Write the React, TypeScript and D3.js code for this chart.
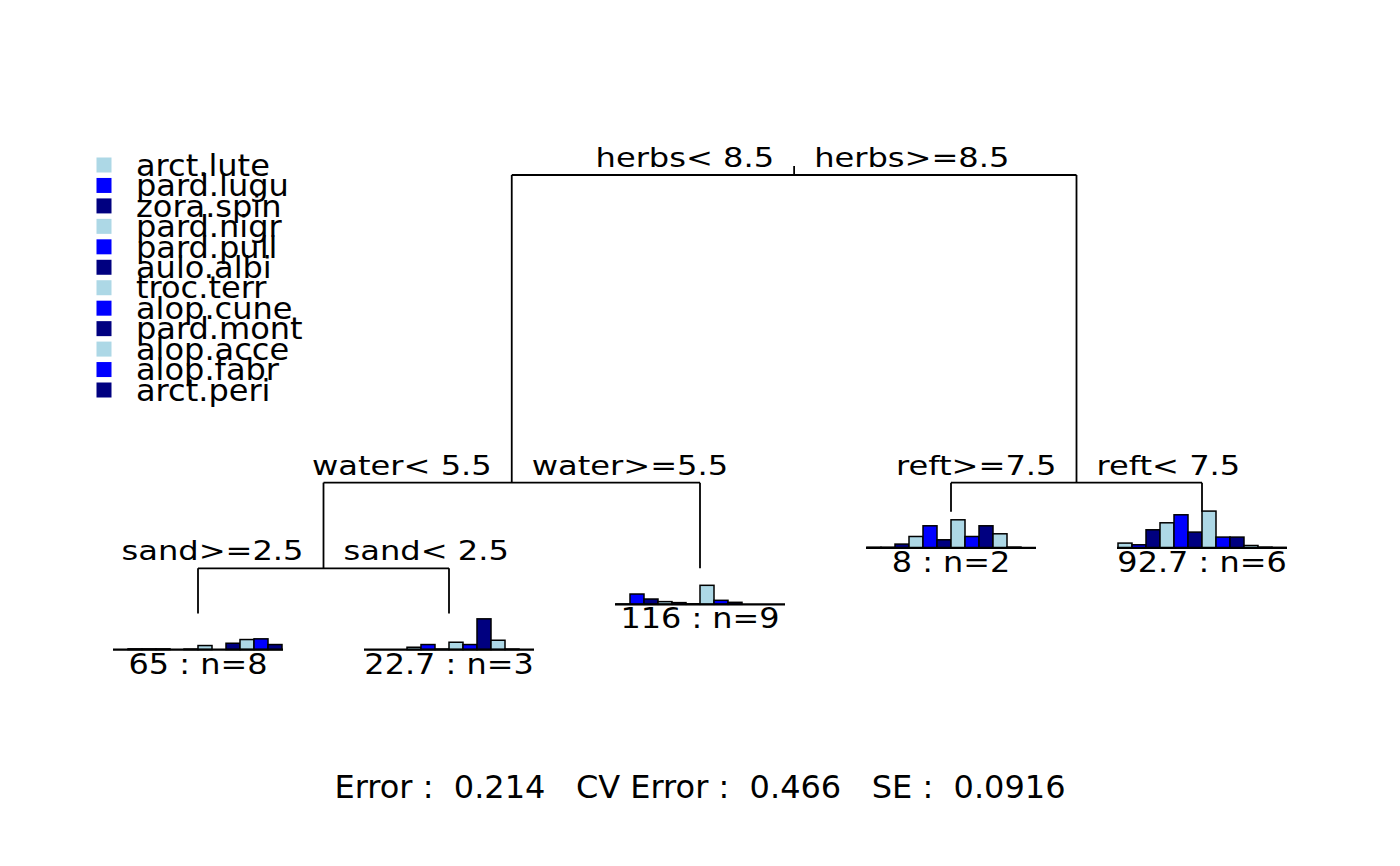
import React from "react";
import * as d3 from "d3";

const species = [
  "arct.lute", "pard.lugu", "zora.spin", "pard.nigr", "pard.pull", "aulo.albi",
  "troc.terr", "alop.cune", "pard.mont", "alop.acce", "alop.fabr", "arct.peri",
];
const palette = ["#ADD8E6", "#0000FF", "#000080"];

// internal splits: rpart node id, left label, right label, relative improvement
const splitIds = [1, 2, 3, 4];
const splitLeft = ["herbs< 8.5", "water< 5.5", "reft>=7.5", "sand>=2.5"];
const splitRight = ["herbs>=8.5", "water>=5.5", "reft< 7.5", "sand< 2.5"];
const splitImprove = [0.517, 0.144, 0.049, 0.076];

// leaves: rpart node id, fitted value label, n, species bars
const leafIds = [8, 9, 5, 6, 7];
const leafValue = ["65", "22.7", "116", "8", "92.7"];
const leafN = [8, 3, 9, 2, 6];
const leafBars = [
  [0, 0.7, 0.7, 0.7, 0, 0.5, 4, 0, 6.3, 10, 10.7, 5],
  [0, 0, 0, 2.3, 5, 0.5, 7.3, 5, 30.7, 9.3, 0.5, 0],
  [0.3, 10.3, 5.3, 2.7, 1.7, 0.5, 19, 4, 2, 0, 0, 0],
  [0.5, 0.5, 3.7, 11.3, 22, 8, 28, 11.3, 22, 14, 0.7, 0],
  [4.7, 3, 18, 25, 33, 15.7, 36.7, 10.7, 10.7, 2.3, 0.7, 0.3],
];

const errorText = "Error :  0.214   CV Error :  0.466   SE :  0.0916";

const FONT = "DejaVu Sans";

type N = { id: number; x: number; y: number; leaf: boolean; k: number };

export default function App() {
  const W = 1400, H = 866;
  const xLeaf = d3.scaleLinear().domain([0, leafIds.length - 1]).range([198, 1202]);
  const yDev = d3.scaleLinear().domain([0, 0.786]).range([175, 642.7]);

  // build layout
  const nodes = new Map<number, N>();
  const order: number[] = [];
  const isSplit = (id: number) => splitIds.includes(id);
  const walk = (id: number) => {
    if (isSplit(id)) { walk(id * 2); walk(id * 2 + 1); } else order.push(id);
  };
  walk(1);
  const place = (id: number, cum: number): number => {
    if (isSplit(id)) {
      const k = splitIds.indexOf(id);
      const c = cum + splitImprove[k];
      const xl = place(id * 2, c);
      const xr = place(id * 2 + 1, c);
      const x = (xl + xr) / 2;
      nodes.set(id, { id, x, y: yDev(cum), leaf: false, k });
      return x;
    }
    const k = leafIds.indexOf(id);
    const x = xLeaf(order.indexOf(id));
    nodes.set(id, { id, x, y: yDev(cum), leaf: true, k });
    return x;
  };
  place(1, 0);

  const barW = 14;
  const barSpan = barW * species.length;
  const hScale = d3.scaleLinear().domain([0, 40]).range([0, 40]);
  const barGap = 36;

  const lines: JSX.Element[] = [];
  const labels: JSX.Element[] = [];
  const bars: JSX.Element[] = [];
  const root = nodes.get(1)!;
  lines.push(<line key="roottick" x1={root.x} x2={root.x} y1={root.y - 9} y2={root.y} />);
  nodes.forEach((n) => {
    if (!n.leaf) {
      const l = nodes.get(n.id * 2)!;
      const r = nodes.get(n.id * 2 + 1)!;
      lines.push(<line key={"h" + n.id} x1={l.x} x2={r.x} y1={n.y} y2={n.y} />);
      lines.push(<line key={"vl" + n.id} x1={l.x} x2={l.x} y1={n.y} y2={l.y} />);
      lines.push(<line key={"vr" + n.id} x1={r.x} x2={r.x} y1={n.y} y2={r.y} />);
      const by = n.y - 8;
      labels.push(
        <text key={"ll" + n.id} textAnchor="end" fontSize={27}
          transform={`translate(${n.x - 20},${by}) scale(1.19,1)`}>{splitLeft[n.k]}</text>
      );
      labels.push(
        <text key={"lr" + n.id} textAnchor="start" fontSize={27}
          transform={`translate(${n.x + 20},${by}) scale(1.19,1)`}>{splitRight[n.k]}</text>
      );
    } else {
      const base = n.y + barGap;
      const x0 = n.x - barSpan / 2;
      leafBars[n.k].forEach((v, i) => {
        const h = hScale(v);
        bars.push(
          <rect key={`b${n.id}-${i}`} x={x0 + i * barW} y={base - h} width={barW} height={h}
            fill={palette[i % 3]} stroke="#000" strokeWidth={1.5} />
        );
      });
      bars.push(<line key={"base" + n.id} x1={x0 - 1} x2={x0 + barSpan + 1} y1={base} y2={base}
        stroke="#000" strokeWidth={2.2} />);
      labels.push(
        <text key={"lv" + n.id} textAnchor="middle" fontSize={28.5}
          transform={`translate(${n.x},${base + 24}) scale(1.12,1)`}>
          {`${leafValue[n.k]} : n=${leafN[n.k]}`}
        </text>
      );
    }
  });

  const legendY = d3.scaleLinear().domain([0, species.length - 1]).range([165, 390]);

  return (
    <svg width={W} height={H} style={{ position: "absolute", left: 0, top: 0, background: "#fff" }}
      fontFamily={FONT}>
      <rect x={0} y={0} width={W} height={H} fill="#fff" />
      <g stroke="#000" strokeWidth={1.8}>{lines}</g>
      <g>{bars}</g>
      <g fill="#000">{labels}</g>
      <g>
        {species.map((s, i) => (
          <g key={s}>
            <rect x={96.5} y={legendY(i) - 7.5} width={15} height={15} fill={palette[i % 3]} />
            <text fontSize={30.5} dominantBaseline="central"
              transform={`translate(136,${legendY(i)}) scale(1.05,1)`}>{s}</text>
          </g>
        ))}
      </g>
      <text x={700} y={798} textAnchor="middle" fontSize={32} xmlSpace="preserve"
        style={{ whiteSpace: "pre" }}>{errorText}</text>
    </svg>
  );
}
